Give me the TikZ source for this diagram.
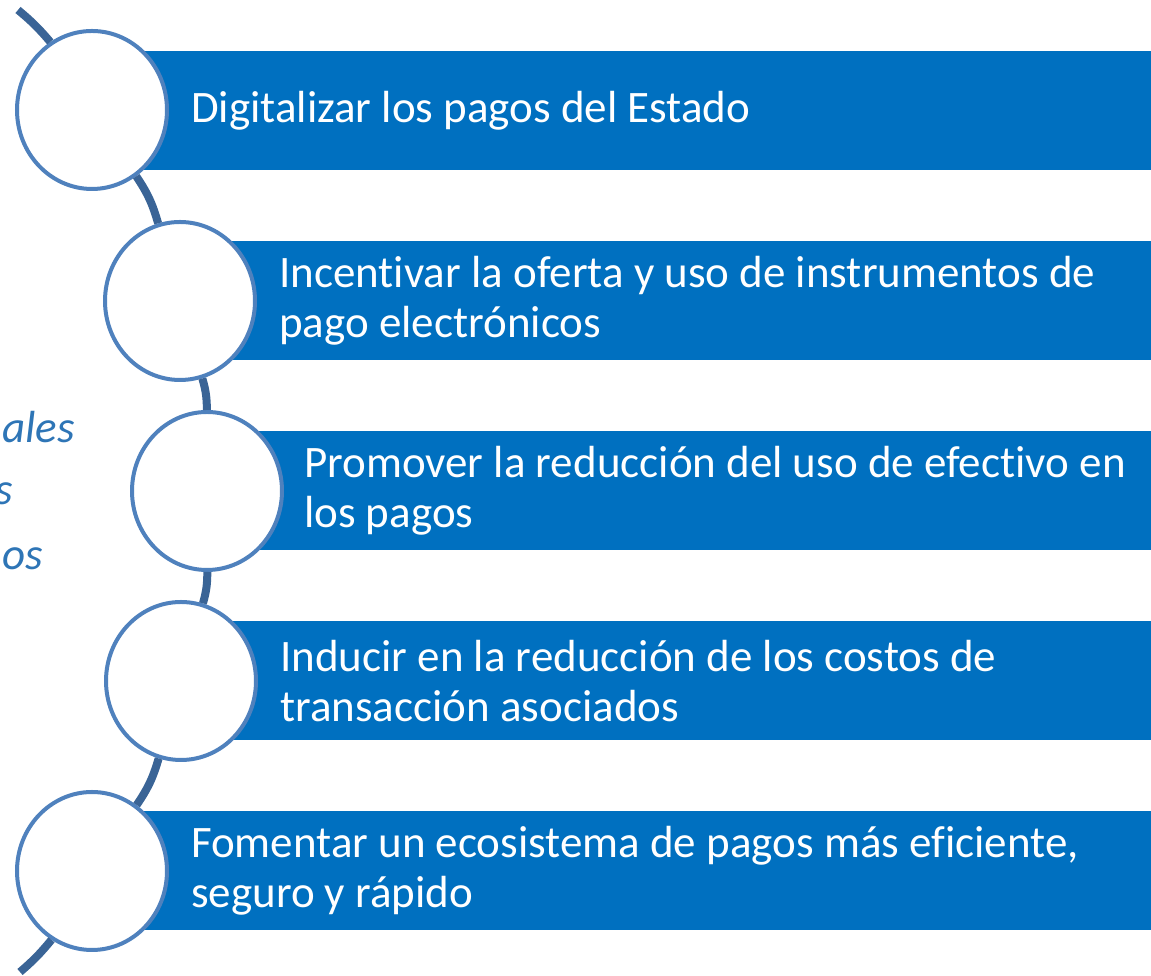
\documentclass[tikz,border=0pt]{standalone}
\usepackage{fontspec}
\setmainfont{Carlito}[Ligatures=NoCommon]
\usetikzlibrary{shapes.geometric}
\definecolor{barblue}{RGB}{0,112,192}
\definecolor{ringblue}{RGB}{79,129,189}
\definecolor{linkblue}{RGB}{58,100,150}
\definecolor{sideblue}{RGB}{46,117,182}

\begin{document}
\begin{tikzpicture}[x=1pt,y=1pt,
  bar/.style={fill=barblue, minimum height=119pt, inner sep=0pt, anchor=west},
  ring/.style={ellipse, draw=ringblue, line width=4pt, fill=white, minimum width=150pt, minimum height=158pt, inner sep=0pt},
  link/.style={linkblue, line width=8pt},
  txt/.style={anchor=west, text=white, align=left, font=\fontsize{45}{50}\selectfont, inner sep=0pt},
  side/.style={anchor=base east, text=sideblue, font=\fontsize{45}{50}\selectfont\itshape, inner sep=0pt}]
  \useasboundingbox (0,0) rectangle (1151,976);

  % bars
  \node[bar, minimum width=1060pt] (b1) at (92,865) {};
  \node[bar, minimum width=972pt] (b2) at (180,675) {};
  \node[bar, minimum width=945pt] (b3) at (207,485) {};
  \node[bar, minimum width=971pt] (b4) at (181,295) {};
  \node[bar, minimum width=1060pt] (b5) at (92,105) {};

  % rings
  \node[ring] (r1) at (92,866) {};
  \node[ring] (r2) at (180,675) {};
  \node[ring] (r3) at (207,485) {};
  \node[ring] (r4) at (181,295) {};
  \node[ring] (r5) at (92,105) {};

  % the arc through the rings
  \coordinate (top) at (18,966);
  \coordinate (bot) at (20,4);
  \draw[link] (top) to[bend left=5] (r1);
  \draw[link] (r1) to[bend left=9] (r2);
  \draw[link] (r2) to[bend left=8] (r3);
  \draw[link] (r3) to[bend left=8] (r4);
  \draw[link] (r4) to[bend left=9] (r5);
  \draw[link] (r5) to[bend left=5] (bot);

  % texts
  \node[txt] (t1) at ([xshift=22pt,yshift=-1pt]r1.east) {Digitalizar los pagos del Estado};
  \node[txt] (t2) at ([xshift=22pt]r2.east) {Incentivar la oferta y uso de instrumentos de\\pago electrónicos};
  \node[txt] (t3) at ([xshift=20pt]r3.east) {Promover la reducción del uso de efectivo en\\los pagos};
  \node[txt] (t4) at ([xshift=22pt]r4.east) {Inducir en la reducción de los costos de\\transacción asociados};
  \node[txt] (t5) at ([xshift=22pt]r5.east) {Fomentar un ecosistema de pagos más eficiente,\\seguro y rápido};

  \node[side] (s1) at (75,533) {ales};
  \node[side] (s2) at (13,471) {s};
  \node[side] (s3) at (43,406) {os};
\end{tikzpicture}
\end{document}
